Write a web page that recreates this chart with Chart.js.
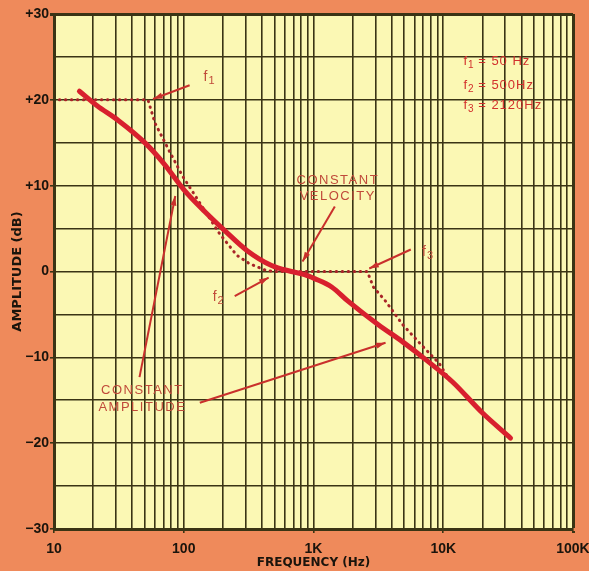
<!DOCTYPE html>
<html>
<head>
    <meta charset="utf-8">
    <title>Recording Characteristic</title>
    <script src="https://cdn.jsdelivr.net/npm/chart.js@4.4.1/dist/chart.umd.min.js"></script>
    <style>
        body {
            margin: 0;
            background: #ef8a5b;
        }
        .chart-container {
            width: 589px;
            height: 571px;
            position: relative;
        }
    </style>
</head>
<body>
    <div class="chart-container">
        <canvas id="curveChart"></canvas>
    </div>

    <script>
    // Tick labels
    const decadeValues = [10, 100, 1000, 10000, 100000];
    const decadeLabels = ['10', '100', '1K', '10K', '100K'];
    const dbMin = -30;
    const dbMax = 30;

    // Solid red curve (Hz, dB)
    const curveFreq = [15.7, 21.5, 31.3, 51, 70, 102, 145, 206, 310, 475, 677, 853, 1020, 1380, 1845, 3160, 4870, 7370, 11860, 19800, 33000];
    const curveDb   = [21.0, 19.3, 17.6, 14.9, 12.6, 9.4, 7.0, 4.8, 2.4, 0.7, 0.0, -0.36, -0.83, -1.8, -3.45, -6.2, -8.2, -10.3, -12.9, -16.4, -19.4];

    // Dotted straight-line approximation
    const asymFreq = [11, 53, 60, 77, 98, 189, 256, 322, 435, 500, 2600, 2890, 3590, 4870, 6730, 9300, 11460];
    const asymDb   = [20, 20, 17.3, 14.1, 11.1, 4.4, 1.9, 0.9, 0.1, 0, 0, -1.8, -3.45, -6.2, -8.5, -10.7, -12.9];

    // Arrows drawn in data units: [fromHz, fromDb, toHz, toDb]
    const arrows = [
        [111, 21.7, 58, 20.1],      // f1
        [1460, 7.56, 823, 1.16],    // constant velocity
        [247, -2.86, 451, -0.7],    // f2
        [5620, 2.56, 2690, 0.35],   // f3
        [45.6, -12.3, 86, 8.8],     // constant amplitude, up
        [133, -15.3, 3590, -8.3]    // constant amplitude, right
    ];

    // Words on the chart: [text, Hz, dB]
    const notes = [
        ['CONSTANT', 1540, 10.6],
        ['VELOCITY', 1540, 8.7],
        ['CONSTANT', 48, -13.8],
        ['AMPLITUDE', 48, -15.8]
    ];
    // f-markers next to the arrows: [subscript, Hz, dB]
    const fMarks = [
        ['1', 158, 22.65],
        ['2', 186, -3.0],
        ['3', 7640, 2.3]
    ];
    // key, top right: [subscript, rest of text, dB]
    const keySubs = ['1', '2', '3'];
    const keyText = [' = 50 Hz', ' = 500Hz', ' = 2120Hz'];
    const keyDb = [24.5, 21.7, 19.4];
    const keyFreq = 14300;

    // grid lines at 1..9 of every decade
    const gridFreqs = [];
    decadeValues.forEach(d => {
        if (d === 100000) { gridFreqs.push(d); return; }
        for (let k = 1; k <= 9; k++) gridFreqs.push(d * k);
    });

    const gridColor = '#3a3414';
    const inkRed = '#c9302c';
    const noteFont = '"Liberation Sans", Arial, sans-serif';

    // draws "f" with a lowered small digit, returns the x after it
    function drawF(ctx, sub, x, y, size) {
        ctx.font = size + 'px ' + noteFont;
        ctx.textAlign = 'left';
        ctx.fillText('f', x, y);
        const w = ctx.measureText('f').width;
        ctx.font = Math.round(size * 0.8) + 'px ' + noteFont;
        ctx.fillText(sub, x + w + 1, y + size * 0.3);
        const w2 = ctx.measureText(sub).width;
        ctx.font = size + 'px ' + noteFont;
        return x + w + 1 + w2;
    }

    const paperPlugin = {
        id: 'paper',
        beforeDraw(chart) {
            const { ctx, chartArea: a } = chart;
            ctx.save();
            ctx.fillStyle = '#fbf8b4';
            ctx.fillRect(a.left, a.top, a.right - a.left, a.bottom - a.top);
            ctx.restore();
        },
        afterDatasetsDraw(chart) {
            const { ctx } = chart;
            const xs = chart.scales.x, ys = chart.scales.y;
            ctx.save();

            // arrows
            ctx.strokeStyle = inkRed;
            ctx.fillStyle = inkRed;
            ctx.lineWidth = 2;
            arrows.forEach(([f1, d1, f2, d2]) => {
                const x1 = xs.getPixelForValue(f1), y1 = ys.getPixelForValue(d1);
                const x2 = xs.getPixelForValue(f2), y2 = ys.getPixelForValue(d2);
                const ang = Math.atan2(y2 - y1, x2 - x1);
                ctx.beginPath();
                ctx.moveTo(x1, y1);
                ctx.lineTo(x2, y2);
                ctx.stroke();
                ctx.beginPath();
                ctx.moveTo(x2, y2);
                ctx.lineTo(x2 - 10 * Math.cos(ang - 0.3), y2 - 10 * Math.sin(ang - 0.3));
                ctx.lineTo(x2 - 10 * Math.cos(ang + 0.3), y2 - 10 * Math.sin(ang + 0.3));
                ctx.closePath();
                ctx.fill();
            });

            // words
            ctx.fillStyle = '#c04a3a';
            ctx.font = '13px ' + noteFont;
            ctx.letterSpacing = '1.5px';
            ctx.textBaseline = 'middle';
            ctx.textAlign = 'center';
            notes.forEach(([t, f, d]) => {
                ctx.fillText(t, xs.getPixelForValue(f), ys.getPixelForValue(d));
            });

            // f markers
            ctx.letterSpacing = '0px';
            fMarks.forEach(([s, f, d]) => {
                drawF(ctx, s, xs.getPixelForValue(f) - 6, ys.getPixelForValue(d), 14);
            });

            // key, top right
            ctx.fillStyle = '#d2302c';
            keySubs.forEach((s, i) => {
                const y = ys.getPixelForValue(keyDb[i]);
                const x = drawF(ctx, s, xs.getPixelForValue(keyFreq), y, 13);
                ctx.letterSpacing = '1px';
                ctx.textAlign = 'left';
                ctx.fillText(keyText[i], x, y);
                ctx.letterSpacing = '0px';
            });
            ctx.restore();
        }
    };

    const ctx = document.getElementById('curveChart').getContext('2d');
    const tickFont = { family: '"Liberation Sans", Arial, sans-serif', weight: 'bold', size: 14 };

    new Chart(ctx, {
        type: 'line',
        data: {
            datasets: [
                {
                    label: 'Recording curve',
                    data: curveFreq.map((f, i) => ({ x: f, y: curveDb[i] })),
                    borderColor: '#d8202e',
                    borderWidth: 5,
                    borderCapStyle: 'round',
                    cubicInterpolationMode: 'monotone',
                    pointRadius: 0
                },
                {
                    label: 'Asymptotes',
                    data: asymFreq.map((f, i) => ({ x: f, y: asymDb[i] })),
                    borderColor: '#a82428',
                    borderWidth: 3,
                    borderDash: [0.5, 5.5],
                    borderCapStyle: 'round',
                    tension: 0,
                    pointRadius: 0
                }
            ]
        },
        options: {
            responsive: true,
            maintainAspectRatio: false,
            animation: false,
            layout: { padding: { top: 14, right: 16, left: 0, bottom: 0 } },
            plugins: {
                legend: { display: false },
                tooltip: { enabled: false }
            },
            scales: {
                x: {
                    type: 'logarithmic',
                    min: 10,
                    max: 100000,
                    afterBuildTicks(scale) {
                        scale.ticks = gridFreqs.map(v => ({ value: v }));
                    },
                    afterFit(scale) {
                        scale.height = 42;
                        // let "100K" hang past the edge like the original
                        scale.paddingLeft = 0;
                        scale.paddingRight = 0;
                    },
                    ticks: {
                        autoSkip: false,
                        maxRotation: 0,
                        padding: 8,
                        color: '#1a140c',
                        font: tickFont,
                        callback: (v) => {
                            const i = decadeValues.indexOf(v);
                            return i >= 0 ? decadeLabels[i] : '';
                        }
                    },
                    grid: {
                        color: gridColor,
                        lineWidth: c => (c.tick && c.tick.value === 100000 ? 3 : 1.6),
                        tickLength: 4,
                        tickColor: c => (c.tick && decadeValues.includes(c.tick.value) ? gridColor : 'transparent')
                    },
                    border: { color: gridColor, width: 3 },
                    title: {
                        display: true,
                        text: 'FREQUENCY (Hz)',
                        color: '#1a140c',
                        font: { family: '"DejaVu Sans", sans-serif', weight: 'bold', size: 12 },
                        padding: { top: 0, bottom: 1 }
                    }
                },
                y: {
                    type: 'linear',
                    min: dbMin,
                    max: dbMax,
                    afterFit(scale) {
                        scale.width = 54;
                        scale.paddingTop = 0;
                        scale.paddingBottom = 0;
                    },
                    ticks: {
                        stepSize: 5,
                        autoSkip: false,
                        padding: 1,
                        color: '#1a140c',
                        font: tickFont,
                        callback: (v) => {
                            if (v % 10 !== 0) return '';
                            if (v > 0) return '+' + v;
                            if (v < 0) return '\u2212' + Math.abs(v);
                            return '0';
                        }
                    },
                    grid: {
                        color: gridColor,
                        lineWidth: c => (c.tick && c.tick.value === dbMax ? 3 : 1.6),
                        tickLength: 4,
                        tickColor: c => (c.tick && c.tick.value % 10 === 0 ? gridColor : 'transparent')
                    },
                    border: { color: gridColor, width: 3 },
                    title: {
                        display: true,
                        text: 'AMPLITUDE (dB)',
                        color: '#1a140c',
                        font: { family: '"DejaVu Sans", sans-serif', weight: 'bold', size: 13 },
                        padding: { top: 10, bottom: 0 }
                    }
                }
            }
        },
        plugins: [paperPlugin]
    });
    </script>
</body>
</html>
